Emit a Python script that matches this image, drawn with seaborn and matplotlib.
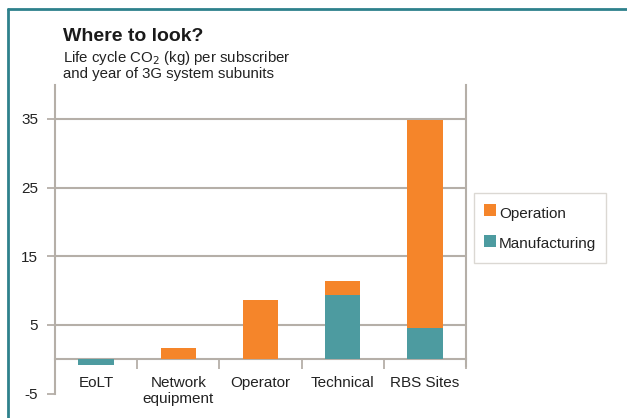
import matplotlib
matplotlib.use("Agg")
import matplotlib.pyplot as plt
from matplotlib.lines import Line2D
import seaborn as sns
import pandas as pd

# Life cycle CO2 (kg) per subscriber and year, by 3G system subunit
categories = ["EoLT", "Network\nequipment", "Operator", "Technical", "RBS Sites"]
manufacturing = [-0.9, 0.0, 0.0, 9.3, 4.6]
operation = [0.0, 1.6, 8.6, 2.1, 30.3]
y_ticks = [-5, 5, 15, 25, 35]

ORANGE = "#F5852A"
TEAL = "#4D9BA0"
GRID = "#B5AFA8"
FRAME = "#2E818C"
TEXT = "#222222"

sns.set_theme(style="white")
plt.rcParams["font.family"] = ["Liberation Sans", "DejaVu Sans"]

df = pd.DataFrame({
    "category": categories,
    "Manufacturing": manufacturing,
    "Operation": operation,
})
df["base"] = df["Manufacturing"].clip(lower=0)

fig = plt.figure(figsize=(6.27, 4.18), dpi=100)
ax = fig.add_axes([0.0877, 0.0584, 0.7432 - 0.0877, 0.7976 - 0.0584])

sns.barplot(data=df, x="category", y="Manufacturing", color=TEAL,
            width=0.43, saturation=1, ax=ax, linewidth=0, zorder=3)
sns.barplot(data=df, x="category", y="Operation", bottom=df["base"],
            color=ORANGE, width=0.43, saturation=1, ax=ax, linewidth=0, zorder=3)

ax.set_xlim(-0.5, 4.5)
ax.set_ylim(-5, 40)
ax.set_xlabel("")
ax.set_ylabel("")

# y axis: ticks, labels and horizontal rules
ax.set_yticks(y_ticks)
ax.set_yticklabels([str(v) for v in y_ticks])
ax.yaxis.grid(True, color=GRID, linewidth=1.5, zorder=1)
ax.get_ygridlines()[0].set_visible(False)
ax.tick_params(axis="y", which="major", left=True, length=6, width=1.3,
               color=GRID, pad=6, labelsize=11, labelcolor=TEXT)

# x axis sits on the zero line; separators between categories
ax.spines["bottom"].set_position(("data", 0))
ax.spines["bottom"].set_color(GRID)
ax.spines["bottom"].set_linewidth(1.5)
ax.set_xticks(range(len(categories)))
ax.set_xticklabels(categories)
ax.set_xticks([0.5, 1.5, 2.5, 3.5, 4.5], minor=True)
ax.tick_params(axis="x", which="major", bottom=False, length=0, pad=12,
               labelsize=11, labelcolor=TEXT)
ax.tick_params(axis="x", which="minor", bottom=True, length=7, width=1.3,
               color=GRID)
for lbl in ax.get_xticklabels():
    lbl.set_linespacing(1.15)

ax.spines["left"].set_color(GRID)
ax.spines["left"].set_linewidth(1.5)
ax.spines["right"].set_color(GRID)
ax.spines["right"].set_linewidth(1.5)
ax.spines["right"].set_bounds(-1.0, 40)
ax.spines["top"].set_visible(False)

# legend with square swatches
handles = [Line2D([], [], linestyle="none", marker="s", markersize=8.5,
                  markerfacecolor=ORANGE, markeredgewidth=0, label="Operation"),
           Line2D([], [], linestyle="none", marker="s", markersize=8.5,
                  markerfacecolor=TEAL, markeredgewidth=0, label="Manufacturing")]
leg = fig.legend(handles=handles, loc="upper left",
                 bbox_to_anchor=(474 / 627, 1 - 193 / 418),
                 frameon=True, fancybox=False, fontsize=11,
                 handlelength=0.8, handleheight=1.6, handletextpad=0.2,
                 labelspacing=0.7, borderpad=0.65, borderaxespad=0)
leg.get_frame().set_edgecolor("#D3CFC8")
leg.get_frame().set_linewidth(1.0)
for t in leg.get_texts():
    t.set_color(TEXT)

# titles
fig.text(63 / 627, 1 - 41 / 418, "Where to look?", fontsize=14,
         fontweight="bold", color="#1a1a1a", ha="left", va="baseline")
fig.text(63 / 627, 1 - 62 / 418, "Life cycle CO$_2$ (kg) per subscriber",
         fontsize=10.8, color=TEXT, ha="left", va="baseline")
fig.text(63 / 627, 1 - 78 / 418, "and year of 3G system subunits",
         fontsize=10.8, color=TEXT, ha="left", va="baseline")

# teal frame along the top and left edges
fig.add_artist(Line2D([8 / 627, 8 / 627], [0, 1 - 9 / 418],
                      transform=fig.transFigure, color=FRAME, linewidth=2))
fig.add_artist(Line2D([8 / 627, 1], [1 - 9 / 418, 1 - 9 / 418],
                      transform=fig.transFigure, color=FRAME, linewidth=2))

fig.savefig("out.png", dpi=100)
